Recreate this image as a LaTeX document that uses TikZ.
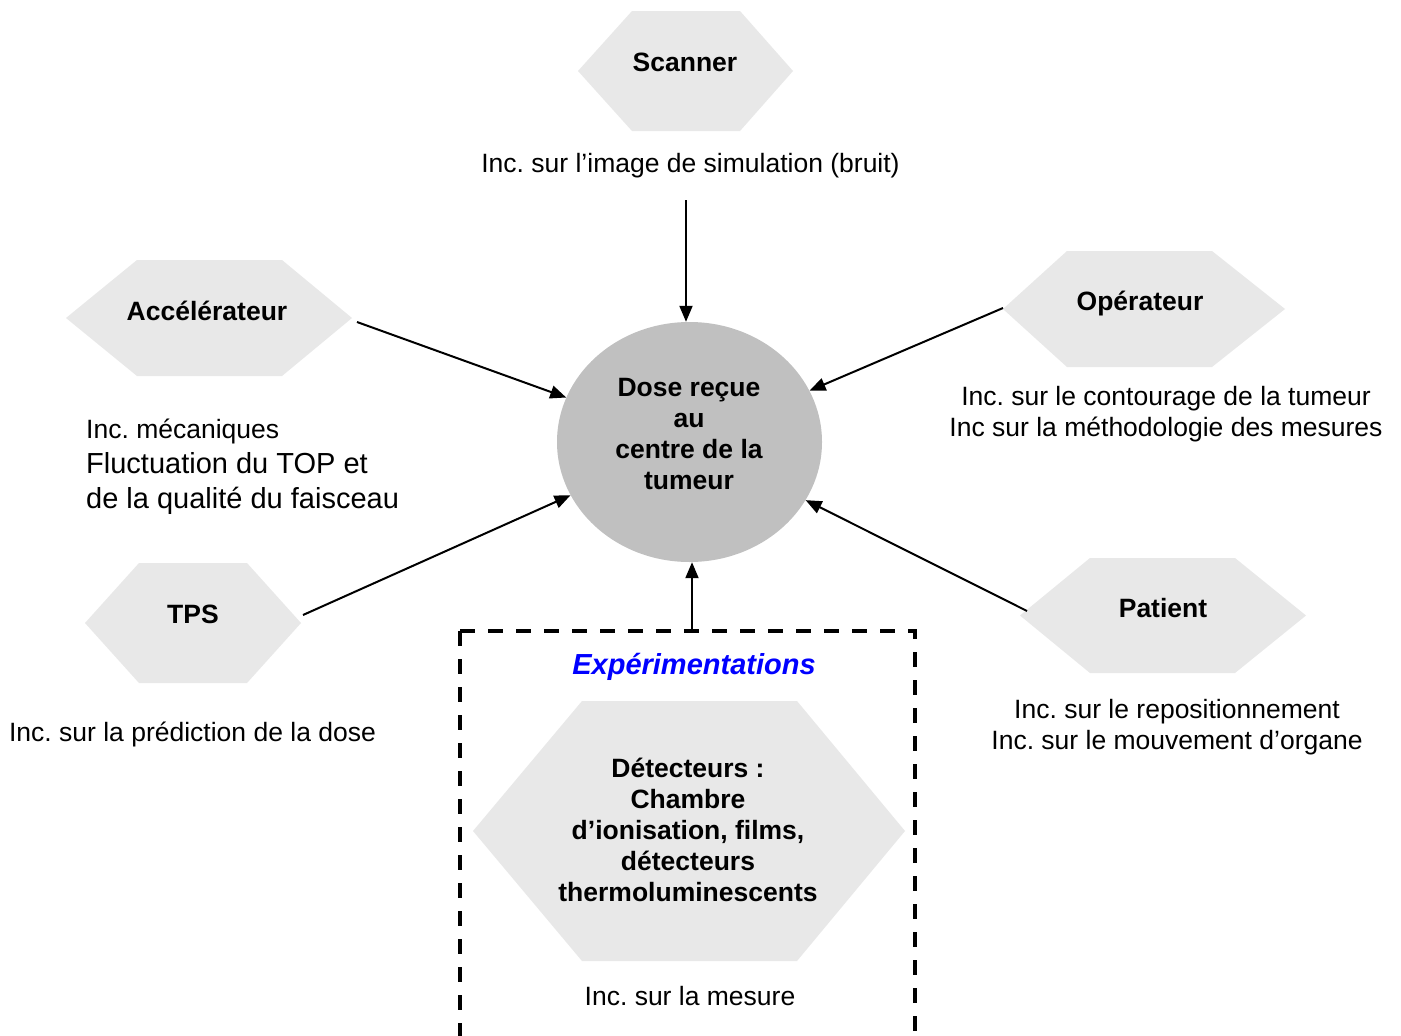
\documentclass[tikz,border=0pt]{standalone}
\usepackage{fontspec}
\setmainfont{Liberation Sans}
\usetikzlibrary{arrows.meta,shapes.geometric}
\definecolor{hexgray}{HTML}{E8E8E8}
\definecolor{circgray}{HTML}{C0C0C0}
\definecolor{expblue}{HTML}{0000FF}
\frenchspacing
% #1 x left vertex, #2 x top-left, #3 x top-right, #4 x right vertex, #5 y top, #6 y bottom
\newcommand\hexshape[6]{\fill[hexgray] (#1,{(#5+#6)/2}) -- (#2,#5) -- (#3,#5) -- (#4,{(#5+#6)/2}) -- (#3,#6) -- (#2,#6) -- cycle;}
\begin{document}
\begin{tikzpicture}[x=1pt,y=-1pt,
  conn/.style={line width=2pt,-{Triangle[length=16pt,width=13pt]}},
  lbl/.style={inner sep=0pt,anchor=base,font=\fontsize{26.5}{31}\selectfont},
  blbl/.style={inner sep=0pt,anchor=base,font=\fontsize{26.5}{31}\selectfont\bfseries},
  framebox/.style={line width=4.5pt,dash pattern=on 15pt off 13pt}]
\clip (0,0) rectangle (1401,1036);
\fill[white] (0,0) rectangle (1401,1036);

% dashed experiment frame
\draw[framebox] (460,631) -- (460,1070);
\draw[framebox] (460,631) -- (915,631) -- (915,1070);

% hexagons
\hexshape{578}{632}{740}{793}{11}{131}
\hexshape{66}{137}{282}{352}{260}{376}
\hexshape{1003}{1067}{1212}{1285}{251}{367}
\hexshape{85}{139}{247}{301}{563}{683}
\hexshape{1020}{1090}{1235}{1306}{558}{673}
\hexshape{473}{582}{797}{905}{701}{961}

% central ellipse
\node[ellipse,fill=circgray,minimum width=265pt,minimum height=240pt,inner sep=0pt] (dose) at (689.5,442) {};

% connector start points
\coordinate (scanout) at (686,200);
\coordinate (accout) at (357,322);
\coordinate (opout) at (1003,308);
\coordinate (tpsout) at (303,615);
\coordinate (patout) at (1027,611);
\coordinate (expout) at (692,631);

\draw[conn] (scanout) -- (scanout |- dose.north);
\draw[conn] (accout) -- (dose);
\draw[conn] (opout) -- (dose);
\draw[conn] (tpsout) -- (dose);
\draw[conn] (patout) -- (dose);
\draw[conn] (expout) -- (expout |- dose.south);

% texts
\node[blbl] (scanner) at (685,71) {Scanner};
\node[lbl] (scaninc) at (690.5,172) {Inc. sur l’image de simulation (bruit)};

\node[blbl] (acc) at (207,320) {Accélérateur};
\node[inner sep=0pt,anchor=base west,font=\fontsize{26.5}{35}\selectfont] (accinc) at (86,438) {\begin{tabular}[t]{@{}l@{}}Inc. mécaniques\\
\fontsize{29}{35}\selectfont Fluctuation du TOP et\\
\fontsize{29}{35}\selectfont de la qualité du faisceau\end{tabular}};

\node[blbl] (op) at (1140,310) {Opérateur};
\node[lbl] (opinc) at (1166,405) {\begin{tabular}[t]{@{}c@{}}Inc. sur le contourage de la tumeur\\Inc sur la méthodologie des mesures\end{tabular}};

\node[blbl] (dosetxt) at (689,396) {\begin{tabular}[t]{@{}c@{}}Dose reçue\\au\\centre de la\\tumeur\end{tabular}};

\node[blbl] (tps) at (193,623) {TPS};
\node[lbl] (tpsinc) at (192.5,741) {Inc. sur la prédiction de la dose};

\node[blbl] (patient) at (1163,617) {Patient};
\node[lbl] (patinc) at (1177,718) {\begin{tabular}[t]{@{}c@{}}Inc. sur le repositionnement\\Inc. sur le mouvement d’organe\end{tabular}};

\node[inner sep=0pt,anchor=base,font=\fontsize{29}{34}\selectfont\bfseries\itshape,text=expblue] (exp) at (694,674) {Expérimentations};
\node[blbl] (det) at (688,777) {\begin{tabular}[t]{@{}c@{}}Détecteurs :\\Chambre\\d’ionisation, films,\\détecteurs\\thermoluminescents\end{tabular}};
\node[lbl] (detinc) at (690,1005) {Inc. sur la mesure};
\end{tikzpicture}
\end{document}
